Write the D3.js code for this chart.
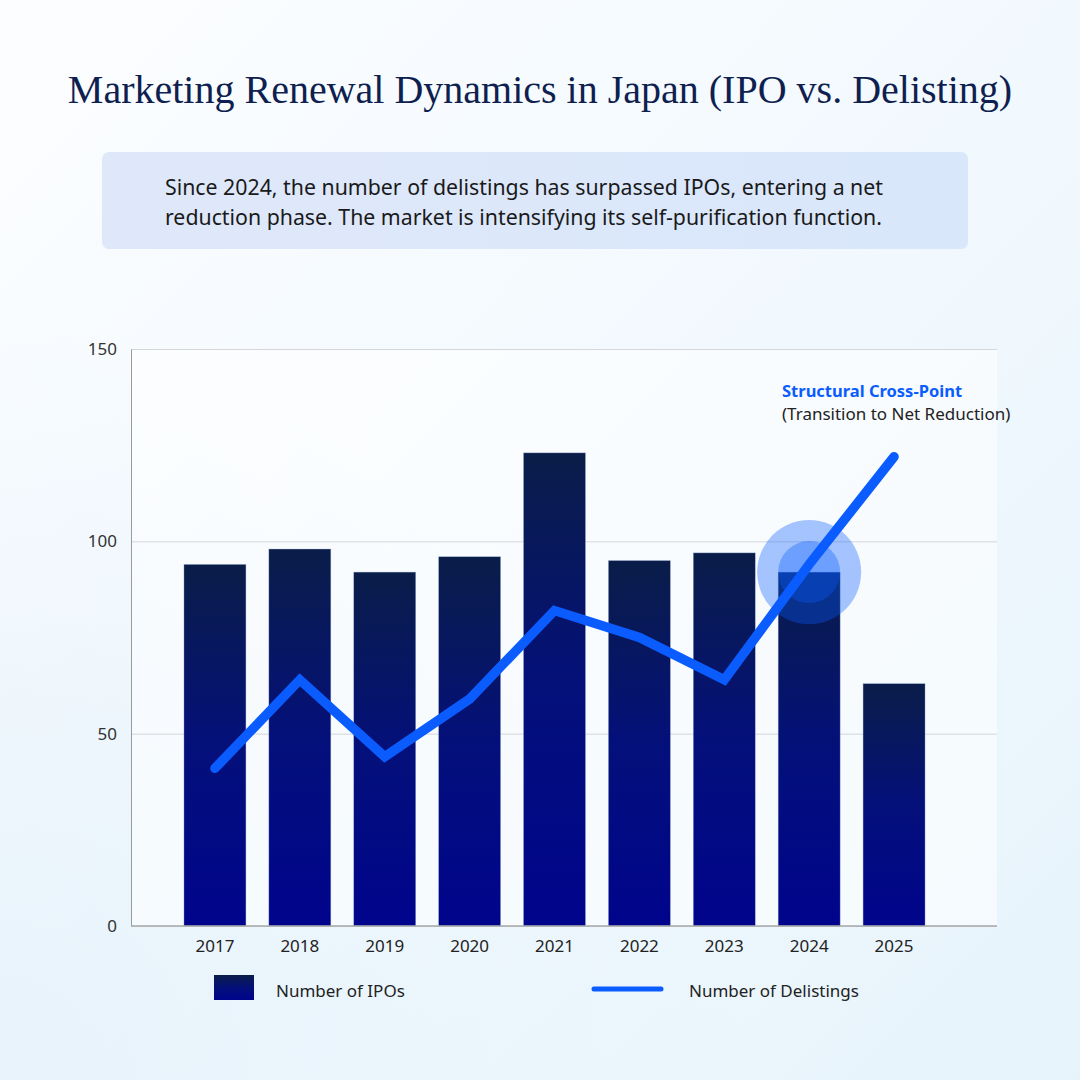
<!DOCTYPE html>
<html><head><meta charset="utf-8">
<script src="https://cdn.jsdelivr.net/npm/d3@7/dist/d3.min.js"></script>
<style>
html,body{margin:0;padding:0;}
body{width:1080px;height:1080px;overflow:hidden;}
</style></head>
<body>
<svg id="chart" width="1080" height="1080"></svg>
<script>
const years = ["2017","2018","2019","2020","2021","2022","2023","2024","2025"];
const ipos = [94, 98, 92, 96, 123, 95, 97, 92, 63];
const delistings = [41, 64, 44, 59, 82, 75, 64, 94, 122];
const yTicks = [0, 50, 100, 150];
const titleText = "Marketing Renewal Dynamics in Japan (IPO vs. Delisting)";
const noteLines = ["Since 2024, the number of delistings has surpassed IPOs, entering a net",
                   "reduction phase. The market is intensifying its self-purification function."];
const calloutTitle = "Structural Cross-Point";
const calloutSub = "(Transition to Net Reduction)";
const highlightYear = "2024";
const legendLabels = ["Number of IPOs", "Number of Delistings"];

(function(){
const svg = d3.select("#chart");
const defs = svg.append("defs");
const bg = defs.append("linearGradient").attr("id","bg").attr("x1","0").attr("y1","0").attr("x2","1").attr("y2","1");
bg.append("stop").attr("offset","0").attr("stop-color","#fcfdff");
bg.append("stop").attr("offset","0.5").attr("stop-color","#f2f9fe");
bg.append("stop").attr("offset","1").attr("stop-color","#e6f3fb");
const bg2 = defs.append("radialGradient").attr("id","bg2").attr("cx","0").attr("cy","1").attr("r","0.7");
bg2.append("stop").attr("offset","0").attr("stop-color","#e6f2fb").attr("stop-opacity",0.9);
bg2.append("stop").attr("offset","1").attr("stop-color","#e6f2fb").attr("stop-opacity",0);
const barG = defs.append("linearGradient").attr("id","barg").attr("x1","0").attr("y1","0").attr("x2","0").attr("y2","1");
barG.append("stop").attr("offset","0").attr("stop-color","#0a1d48");
barG.append("stop").attr("offset","0.5").attr("stop-color","#04107a");
barG.append("stop").attr("offset","1").attr("stop-color","#00048c");
const boxG = defs.append("linearGradient").attr("id","boxg").attr("x1","0").attr("y1","0").attr("x2","1").attr("y2","0");
boxG.append("stop").attr("offset","0").attr("stop-color","#dfe8f9");
boxG.append("stop").attr("offset","1").attr("stop-color","#d9e7fb");

svg.append("rect").attr("width",1080).attr("height",1080).attr("fill","url(#bg)");
svg.append("rect").attr("width",1080).attr("height",1080).attr("fill","url(#bg2)");

svg.append("text").attr("x",540).attr("y",103).attr("text-anchor","middle")
  .attr("font-family","'Liberation Serif', 'DejaVu Serif', serif").attr("font-size",40)
  .attr("fill","#0f1f4f").text(titleText);

svg.append("rect").attr("x",102).attr("y",152).attr("width",866).attr("height",97).attr("rx",7)
  .attr("fill","url(#boxg)");
noteLines.forEach((t,i)=>{
  svg.append("text").attr("x",165).attr("y",195+i*30).attr("font-family","'Noto Sans', 'Open Sans', sans-serif")
    .attr("font-size",21.3).attr("fill","#1a1a1a").text(t);
});

const pL = 131, pR = 997, pT = 349, pB = 926;
const x = d3.scaleBand().domain(years).range([172.5, 936.5]).paddingInner(0.27).paddingOuter(0.135);
const y = d3.scaleLinear().domain([0,150]).range([pB, pT]);

svg.append("rect").attr("x",pL).attr("y",pT).attr("width",pR-pL).attr("height",pB-pT)
  .attr("fill","#ffffff").attr("opacity",0.55);

const grid = svg.append("g").attr("transform",`translate(${pL},0)`)
  .call(d3.axisLeft(y).tickValues(yTicks).tickSize(-(pR-pL)).tickFormat(""));
grid.select(".domain").remove();
grid.selectAll("line").attr("stroke","#d4d6da").attr("stroke-width",1);

const yAx = svg.append("g").attr("transform",`translate(${pL},0)`)
  .call(d3.axisLeft(y).tickValues(yTicks).tickSize(0).tickPadding(14));
yAx.select(".domain").attr("stroke","#9a9a9a");
yAx.selectAll("text").attr("font-family","'Noto Sans', sans-serif").attr("font-size",17).attr("fill","#333");

svg.append("g").selectAll("rect").data(years).join("rect")
  .attr("x",d=>x(d)).attr("width",x.bandwidth())
  .attr("y",(d,i)=>y(ipos[i])).attr("height",(d,i)=>y(0)-y(ipos[i]))
  .attr("fill","url(#barg)").attr("stroke","#9fb0d6").attr("stroke-width",0.6).attr("stroke-opacity",0.6);

svg.append("line").attr("x1",pL).attr("x2",pR).attr("y1",y(0)).attr("y2",y(0))
  .attr("stroke","#a8a8a8").attr("stroke-width",1.5);

const xAx = svg.append("g").attr("transform",`translate(0,${pB})`)
  .call(d3.axisBottom(x).tickSize(0).tickPadding(14));
xAx.select(".domain").remove();
xAx.selectAll("text").attr("font-family","'Noto Sans', sans-serif").attr("font-size",17).attr("fill","#222");

const hi = years.indexOf(highlightYear);
const cx = x(highlightYear)+x.bandwidth()/2, cy = y(ipos[hi]);
svg.append("circle").attr("cx",cx).attr("cy",cy).attr("r",52).attr("fill","#0a5cff").attr("opacity",0.35);
svg.append("circle").attr("cx",cx).attr("cy",cy).attr("r",31).attr("fill","#0a5cff").attr("opacity",0.35);

const line = d3.line().x((d,i)=>x(years[i])+x.bandwidth()/2).y(d=>y(d));
svg.append("path").datum(delistings).attr("d",line).attr("fill","none")
  .attr("stroke","#0a5cff").attr("stroke-width",9.5).attr("stroke-linecap","round").attr("stroke-linejoin","miter");

svg.append("text").attr("x",782).attr("y",397).attr("font-family","'Noto Sans', sans-serif")
  .attr("font-size",16.5).attr("font-weight","bold").attr("fill","#0a5cff").text(calloutTitle);
svg.append("text").attr("x",782).attr("y",420).attr("font-family","'Noto Sans', sans-serif")
  .attr("font-size",17).attr("fill","#222").text(calloutSub);

svg.append("rect").attr("x",214).attr("y",975).attr("width",40).attr("height",25).attr("fill","url(#barg)");
svg.append("text").attr("x",276).attr("y",997).attr("font-family","'Noto Sans', sans-serif")
  .attr("font-size",17).attr("fill","#222").text(legendLabels[0]);
svg.append("line").attr("x1",594).attr("x2",661).attr("y1",989).attr("y2",989)
  .attr("stroke","#0a5cff").attr("stroke-width",5).attr("stroke-linecap","round");
svg.append("text").attr("x",689).attr("y",997).attr("font-family","'Noto Sans', sans-serif")
  .attr("font-size",17).attr("fill","#222").text(legendLabels[1]);
})();
</script>
</body></html>
